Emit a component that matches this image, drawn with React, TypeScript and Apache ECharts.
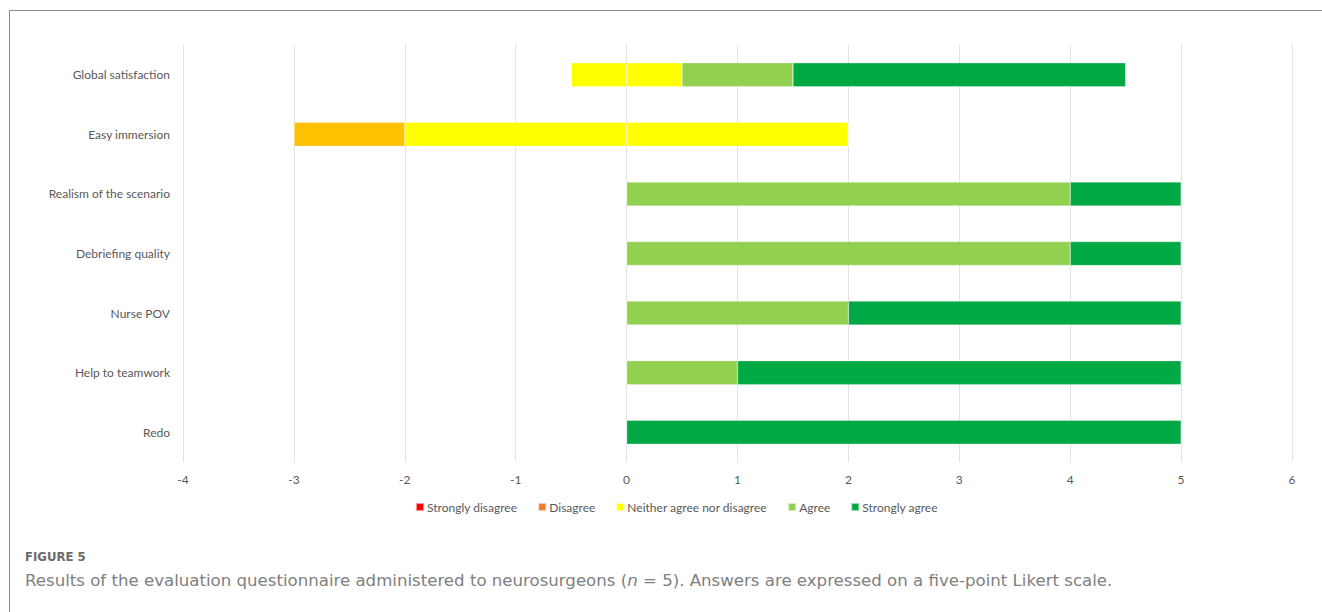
import React, { useEffect, useRef } from "react";
import * as echarts from "echarts";

const categories = [
  "Global satisfaction",
  "Easy immersion",
  "Realism of the scenario",
  "Debriefing quality",
  "Nurse POV",
  "Help to teamwork",
  "Redo",
];
const stronglyDisagree = [0, 0, 0, 0, 0, 0, 0];
const disagree = [0, 1, 0, 0, 0, 0, 0];
const neither = [1, 4, 0, 0, 0, 0, 0];
const agree = [1, 0, 4, 4, 2, 1, 0];
const stronglyAgree = [3, 0, 1, 1, 3, 4, 5];
const xTicks = [-4, -3, -2, -1, 0, 1, 2, 3, 4, 5, 6];

const COLORS = {
  sd: "#FF0000",
  d: "#ED7D31",
  dBar: "#FFC000",
  n: "#FFFF00",
  a: "#92D050",
  sa: "#00A944",
};

export default function App() {
  const ref = useRef<HTMLDivElement>(null);
  useEffect(() => {
    if (!ref.current) return;
    const chart = echarts.init(ref.current, null, { renderer: "svg" });
    const neitherNeg = neither.map((v) => -v / 2);
    const neitherPos = neither.map((v) => v / 2);
    const base = {
      type: "bar",
      stack: "total",
      barWidth: 24,
      itemStyle: { borderColor: "rgba(255,255,255,0.6)", borderWidth: 0.5 },
    };
    chart.setOption({
      animation: false,
      textStyle: { fontFamily: "Lato" },
      grid: { left: 183, right: 30, top: 45, bottom: 150, containLabel: false },
      xAxis: {
        type: "value",
        min: xTicks[0],
        max: xTicks[xTicks.length - 1],
        interval: 1,
        axisLine: { show: false },
        axisTick: { show: false },
        axisLabel: { color: "#595959", fontSize: 12, margin: 11, fontFamily: "Lato" },
        splitLine: { show: true, lineStyle: { color: "#E3E3E3", width: 1 } },
      },
      yAxis: {
        type: "category",
        data: categories,
        inverse: true,
        axisLine: { show: false },
        axisTick: { show: false },
        axisLabel: { color: "#595959", fontSize: 12, margin: 13, fontFamily: "Lato" },
        splitLine: { show: false },
      },
      legend: {
        data: [
          "Strongly disagree",
          "Disagree",
          "Neither agree nor disagree",
          "Agree",
          "Strongly agree",
        ],
        left: 410,
        top: 496,
        itemWidth: 8,
        itemHeight: 8,
        itemGap: 20,
        icon: "rect",
        textStyle: { color: "#595959", fontSize: 12, fontFamily: "Lato", padding: [0, 0, 0, -2] },
      },
      series: [
        { ...base, name: "Neither agree nor disagree", data: neitherNeg, itemStyle: { ...base.itemStyle, color: COLORS.n } },
        {
          ...base,
          name: "Disagree",
          data: disagree.map((v) => ({ value: -v, itemStyle: { color: COLORS.dBar } })),
          itemStyle: { ...base.itemStyle, color: COLORS.d },
        },
        { ...base, name: "Strongly disagree", data: stronglyDisagree.map((v) => -v), itemStyle: { ...base.itemStyle, color: COLORS.sd } },
        { ...base, name: "Neither agree nor disagree", data: neitherPos, itemStyle: { ...base.itemStyle, color: COLORS.n } },
        { ...base, name: "Agree", data: agree, itemStyle: { ...base.itemStyle, color: COLORS.a } },
        { ...base, name: "Strongly agree", data: stronglyAgree, itemStyle: { ...base.itemStyle, color: COLORS.sa } },
      ],
      graphic: [
        { type: "line", shape: { x1: 9.5, y1: 10.5, x2: 1322, y2: 10.5 }, style: { stroke: "#8a8a8a", lineWidth: 1 } },
        { type: "line", shape: { x1: 9.5, y1: 10.5, x2: 9.5, y2: 612 }, style: { stroke: "#8a8a8a", lineWidth: 1 } },
        {
          type: "text",
          left: 25,
          top: 550,
          style: { text: "FIGURE 5", fill: "#6b6b6b", fontSize: 13, fontWeight: "bold", fontFamily: "DejaVu Sans Condensed" },
        },
        {
          type: "text",
          left: 25,
          top: 572,
          style: {
            rich: {
              r: { fill: "#808080", fontSize: 16.6, fontFamily: "DejaVu Sans" },
              i: { fill: "#808080", fontSize: 16.6, fontFamily: "DejaVu Sans", fontStyle: "italic" },
            },
            text:
              "{r|Results of the evaluation questionnaire administered to neurosurgeons (}{i|n}{r| = 5). Answers are expressed on a five-point Likert scale.}",
          },
        },
      ],
    });
    return () => chart.dispose();
  }, []);
  return (
    <div
      ref={ref}
      style={{ position: "fixed", left: 0, top: 0, width: 1322, height: 612, background: "#fff" }}
    />
  );
}
